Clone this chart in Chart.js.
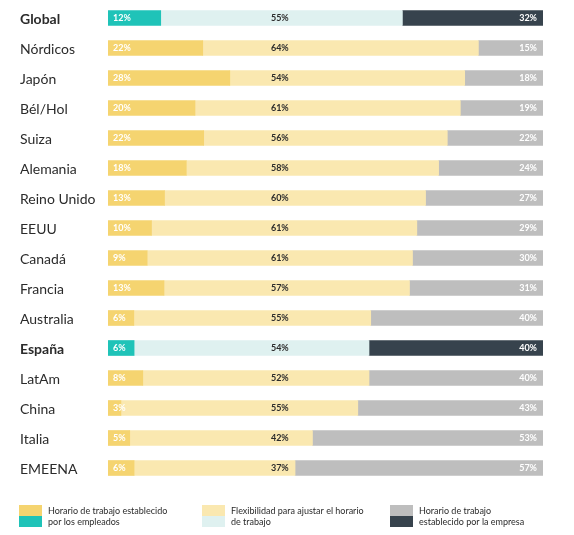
<!DOCTYPE html>
<html>
<head>
<meta charset="utf-8">
<script src="https://cdn.jsdelivr.net/npm/chart.js@4"></script>
<style>
html,body{margin:0;padding:0;background:#fff;}
#wrap{position:relative;width:574px;height:535px;}
</style>
</head>
<body>
<div id="wrap"><canvas id="c" width="574" height="535"></canvas></div>
<script>
const categories = ["Global","Nórdicos","Japón","Bél/Hol","Suiza","Alemania","Reino Unido","EEUU","Canadá","Francia","Australia","España","LatAm","China","Italia","EMEENA"];
const empleados  = [12,22,28,20,22,18,13,10,9,13,6,6,8,3,5,6];
const flexible   = [55,64,54,61,56,58,60,61,61,57,55,54,52,55,42,37];
const empresa    = [32,15,18,19,22,24,27,29,30,31,40,40,40,43,53,57];
const highlighted = ["Global","España"];
const legendLabels = [
  ["Horario de trabajo establecido","por los empleados"],
  ["Flexibilidad para ajustar el horario","de trabajo"],
  ["Horario de trabajo","establecido por la empresa"]
];

const isHi = categories.map(c => highlighted.includes(c));
const totals = categories.map((c,i) => empleados[i]+flexible[i]+empresa[i]);
const norm = arr => arr.map((v,i) => v/totals[i]*100);

const pal = {
  normal: ["#F5D470","#FAE8B0","#BEBEBE"],
  hi:     ["#1FC3B8","#DFF1F0","#37434D"]
};
const colorsFor = k => isHi.map(h => h ? pal.hi[k] : pal.normal[k]);
const FONT = "Lato, 'Open Sans', sans-serif";

const labelPlugin = {
  id: 'labels',
  afterDatasetsDraw(chart) {
    const ctx = chart.ctx;
    const xs = chart.scales.x, ys = chart.scales.y;
    ctx.save();
    ctx.textBaseline = 'middle';
    categories.forEach((c,i) => {
      const y = ys.getPixelForValue(i);
      ctx.fillStyle = '#2b2b2b';
      ctx.textAlign = 'left';
      ctx.font = (isHi[i] ? 'bold ' : '') + '14px ' + FONT;
      ctx.fillText(c, 20, y + 1);
      ctx.font = 'bold 9px ' + FONT;
      ctx.fillStyle = '#ffffff';
      ctx.textAlign = 'left';
      ctx.fillText(empleados[i] + '%', xs.getPixelForValue(0) + 5, y + 0.5);
      ctx.fillStyle = '#2b2b2b';
      ctx.textAlign = 'center';
      ctx.fillText(flexible[i] + '%', xs.getPixelForValue(39.5), y + 0.5);
      ctx.fillStyle = '#ffffff';
      ctx.textAlign = 'right';
      ctx.fillText(empresa[i] + '%', xs.getPixelForValue(100) - 6, y + 0.5);
    });
    // legend
    const boxes = [[19,230-28],[202,0],[390,0]];
    const lx = [19, 202, 390];
    lx.forEach((x,k) => {
      ctx.fillStyle = pal.normal[k];
      ctx.fillRect(x, 505, 23, 11);
      ctx.fillStyle = pal.hi[k];
      ctx.fillRect(x, 516, 23, 11);
      ctx.fillStyle = '#2b2b2b';
      ctx.textAlign = 'left';
      ctx.font = '9px ' + FONT;
      ctx.fillText(legendLabels[k][0], x + 29, 511);
      ctx.fillText(legendLabels[k][1], x + 29, 522);
    });
    ctx.restore();
  }
};

new Chart(document.getElementById('c'), {
  type: 'bar',
  data: {
    labels: categories,
    datasets: [
      { data: norm(empleados), backgroundColor: colorsFor(0), barThickness: 15 },
      { data: norm(flexible),  backgroundColor: colorsFor(1), barThickness: 15 },
      { data: norm(empresa),   backgroundColor: colorsFor(2), barThickness: 15 }
    ]
  },
  options: {
    indexAxis: 'y',
    responsive: false,
    animation: false,
    layout: { padding: { left: 108, right: 31, top: 3, bottom: 52 } },
    plugins: { legend: { display: false }, tooltip: { enabled: false } },
    scales: {
      x: { stacked: true, min: 0, max: 100, display: false },
      y: { stacked: true, display: false }
    }
  },
  plugins: [labelPlugin]
});
</script>
</body>
</html>
